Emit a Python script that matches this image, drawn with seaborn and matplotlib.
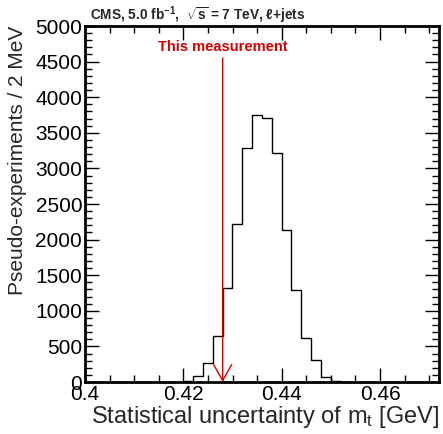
import numpy as np
import pandas as pd
import matplotlib
matplotlib.use("Agg")
import matplotlib.pyplot as plt
import seaborn as sns
from matplotlib.ticker import MultipleLocator

# ---- data ----
bin_edges = [0.420, 0.422, 0.424, 0.426, 0.428, 0.430, 0.432, 0.434, 0.436,
             0.438, 0.440, 0.442, 0.444, 0.446, 0.448, 0.450, 0.452]
counts = [20, 90, 263, 650, 1325, 2215, 3282, 3750, 3712,
          3212, 2135, 1292, 614, 305, 75, 18]
measurement = 0.428
arrow_top = 4550
title = r"CMS, 5.0 fb$^{\mathbf{-1}}$,  $\mathbf{\sqrt{s}}$ = 7 TeV, ℓ+jets"
xlabel = r"Statistical uncertainty of m$_{\mathrm{t}}$ [GeV]"
ylabel = "Pseudo-experiments / 2 MeV"
annot = "This measurement"

sns.set_theme(style="ticks")
plt.rcParams["font.family"] = ["Liberation Sans", "DejaVu Sans"]
plt.rcParams["mathtext.fontset"] = "custom"
plt.rcParams["mathtext.rm"] = "Liberation Sans"
plt.rcParams["mathtext.it"] = "Liberation Sans:italic"
plt.rcParams["mathtext.bf"] = "Liberation Sans:bold"

centers = [(a + b) / 2 for a, b in zip(bin_edges[:-1], bin_edges[1:])]
df = pd.DataFrame({"x": centers, "w": counts})

fig = plt.figure(figsize=(4.43, 4.34), dpi=100)
ax = fig.add_axes([85 / 443, 1 - 382 / 434, (439 - 85) / 443, (382 - 26) / 434])

sns.histplot(data=df, x="x", weights="w", bins=bin_edges, element="step",
             fill=False, color="black", linewidth=1.0, ax=ax)

ax.set_xlim(0.4, 0.472)
ax.set_ylim(0, 5000)
ax.xaxis.set_major_locator(MultipleLocator(0.02))
ax.xaxis.set_minor_locator(MultipleLocator(0.005))
ax.yaxis.set_major_locator(MultipleLocator(500))
ax.yaxis.set_minor_locator(MultipleLocator(100))
ax.set_xticks([0.4, 0.42, 0.44, 0.46])
ax.set_xticklabels(["0.4", "0.42", "0.44", "0.46"])
ax.tick_params(which="both", direction="in", top=True, right=True,
               labelsize=15, colors="black", width=1)
ax.tick_params(which="major", length=10, pad=2)
ax.tick_params(which="minor", length=5)
for s in ax.spines.values():
    s.set_linewidth(2)
    s.set_color("black")

ax.set_xlabel(xlabel, fontsize=17, loc="right", labelpad=0)
ax.set_ylabel(ylabel, fontsize=15, loc="top", labelpad=6)

red = "#d40000"
ax.annotate("", xy=(measurement, 0), xytext=(measurement, arrow_top),
            arrowprops=dict(arrowstyle="->,head_length=1.15,head_width=0.65",
                            color=red, lw=1, mutation_scale=10,
                            shrinkA=0, shrinkB=0))
ax.text(measurement, 4600, annot, color=red, fontsize=10.5,
        fontweight="bold", ha="center", va="bottom")

fig.text(90 / 443, 1 - 20 / 434, title, fontsize=9.8, fontweight="bold",
         ha="left", va="baseline")

fig.savefig("out.png", dpi=100)
